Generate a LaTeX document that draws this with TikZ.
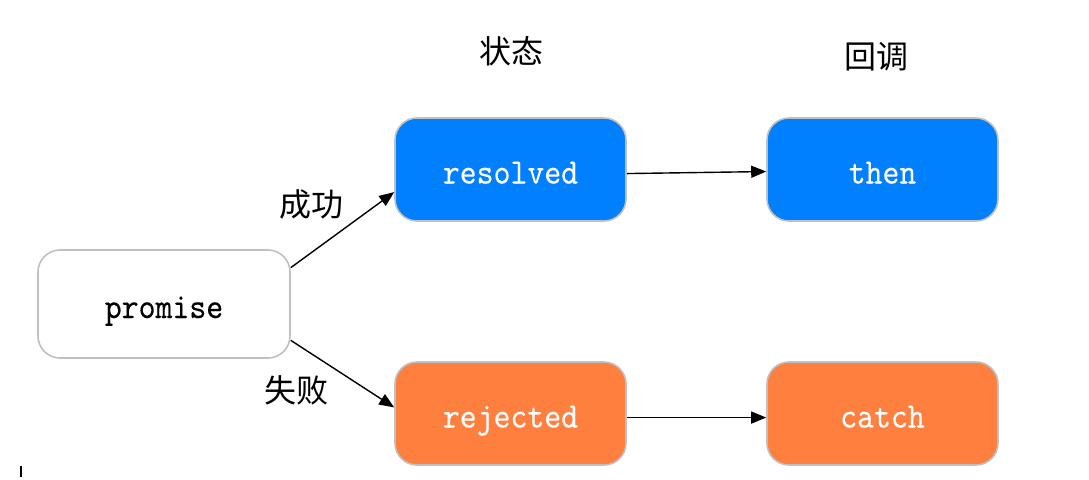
\documentclass[tikz,border=0pt]{standalone}
\usepackage{fontspec}
\newfontfamily\cjk{Noto Sans CJK SC}
\newfontfamily\codefont{lmmono10-regular.otf}[FakeStretch=0.9,FakeBold=0.2]
\usetikzlibrary{positioning,arrows.meta}

\definecolor{okblue}{RGB}{0,127,255}
\definecolor{failorange}{RGB}{255,127,63}
\definecolor{edgegray}{RGB}{192,192,192}

\begin{document}
\begin{tikzpicture}[x=0.5pt, y=-0.5pt,
    state/.style={rectangle, rounded corners=11pt, draw=edgegray, line width=0.8pt,
        minimum width=115.5pt, minimum height=51.5pt, text height=14pt, text depth=0pt,
        font=\fontsize{17.9}{20}\selectfont\codefont, text=white},
    start/.style={state, fill=white, text=black, minimum width=126pt, minimum height=54pt},
    link/.style={-{Triangle[length=7.5pt, width=6pt]}, line width=0.7pt},
    tag/.style={font=\fontsize{16}{18}\selectfont\cjk}]
    \useasboundingbox (0,0) rectangle (1089,479);

    % the promise and its two states
    \node (P) [start] at (164,304) {promise};
    \node (R) [state, fill=okblue] at (510.5,169.5) {resolved};
    \node (J) [state, fill=failorange] at (510.5,413.5) {rejected};

    % callbacks
    \node (T) [state, fill=okblue] at (882.5,169.5) {then};
    \node (C) [state, fill=failorange] at (882.5,413.5) {catch};

    % connect them
    \draw[link] (P.16) -- (R.191);
    \draw[link] (P.-16) -- (J.177);
    \draw[link] (R.-2) -- (T.181);
    \draw[link] (J.-2) -- (C.182);

    % labels
    \node (ok) [tag] at (311,204) {成功};
    \node (fail) [tag] at (296,390) {失败};
    \node (st) [tag] at (511,51) {状态};
    \node (cb) [tag] at (876,57) {回调};

    % stray mark
    \coordinate (m1) at (21,466);
    \coordinate (m2) at (21,477);
    \draw[line width=1pt] (m1) -- (m2);
\end{tikzpicture}
\end{document}
